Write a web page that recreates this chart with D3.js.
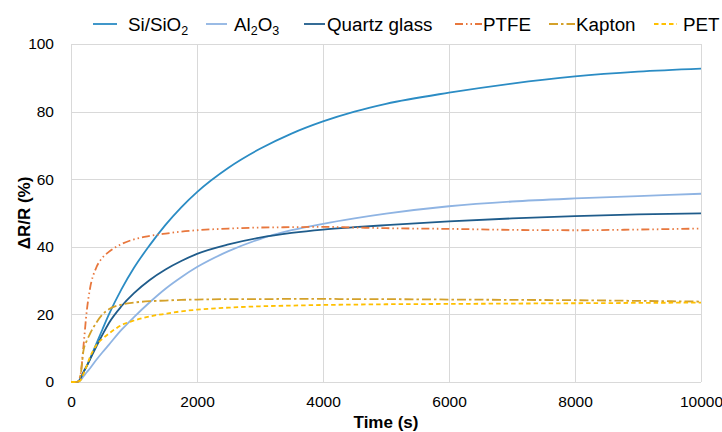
<!DOCTYPE html>
<html>
<head>
<meta charset="utf-8">
<script src="https://cdn.jsdelivr.net/npm/d3@7"></script>
<style>
  body { margin: 0; background: #fff; }
  svg text { font-family: "Liberation Sans", Arial, sans-serif; fill: #000; }
  .grid line { stroke: #d9d9d9; stroke-width: 1; }
</style>
</head>
<body>
<svg id="chart" width="722" height="432"></svg>
<script>
// time points (s)
var times = [0, 100, 150, 200, 250, 300, 400, 500, 600, 800, 1000, 1250, 1500, 1750, 2000,
             2500, 3000, 3500, 4000, 4500, 5000, 6000, 7000, 8000, 9000, 10000];

// dR/R (%) for each substrate
var siSio2 = [0, 0, 1, 3, 4.8, 6.8, 11.2, 15.6, 19.9, 27.4, 33.8, 40.5, 46.5, 51.7, 56.2,
              63.4, 69.0, 73.5, 77.1, 80.0, 82.3, 85.6, 88.3, 90.4, 91.8, 92.7];
var al2o3  = [0, 0, 0.5, 1.7, 2.9, 4, 6.5, 8.8, 11, 15.4, 19.2, 23.6, 27.6, 31.0, 34.0,
              38.7, 42.3, 44.9, 46.8, 48.4, 49.8, 52.0, 53.4, 54.3, 55.0, 55.7];
var quartz = [0, 0, 1, 3, 4.7, 6.6, 10.4, 14.0, 17.4, 22.4, 26.3, 30.2, 33.3, 35.8, 37.9,
              40.7, 42.7, 44.1, 45.1, 45.8, 46.4, 47.5, 48.4, 49.1, 49.6, 49.9];
var ptfe   = [0, 0, 2, 11, 21, 27.5, 33.8, 36.8, 38.5, 40.8, 42.2, 43.2, 43.9, 44.5, 44.9,
              45.4, 45.7, 45.8, 45.9, 45.7, 45.5, 45.3, 45.0, 44.9, 45.1, 45.4];
var kapton = [0, 0, 2, 9.5, 12.2, 14.2, 17.5, 20, 21.5, 22.9, 23.5, 23.9, 24.1, 24.3, 24.4,
              24.5, 24.5, 24.6, 24.6, 24.5, 24.5, 24.4, 24.3, 24.2, 24.0, 23.8];
var pet    = [0, 0, 0.5, 2.5, 4.8, 7.3, 10.8, 12.8, 14.3, 16.8, 18.2, 19.4, 20.2, 20.9, 21.4,
              22.0, 22.4, 22.6, 22.8, 22.9, 23.0, 23.1, 23.2, 23.3, 23.4, 23.5];

var xTicks = [0, 2000, 4000, 6000, 8000, 10000];
var yTicks = [0, 20, 40, 60, 80, 100];

var series = [
  { name: "Si/SiO", sub: "2", values: siSio2, color: "#2b8cc4", dash: null },
  { name: "Al", sub: "2", tail: "O", sub2: "3", values: al2o3, color: "#8fb4e3", dash: null },
  { name: "Quartz glass", values: quartz, color: "#1f5c8b", dash: null },
  { name: "PTFE", values: ptfe, color: "#e8773d", dash: "8,3,1.5,3,1.5,3" },
  { name: "Kapton", values: kapton, color: "#d4a12a", dash: "9,3,2.5,3" },
  { name: "PET", values: pet, color: "#ffc000", dash: "4.5,3" }
];

var margin = { top: 44, right: 21, bottom: 50, left: 71 };
var width = 722 - margin.left - margin.right;
var height = 432 - margin.top - margin.bottom;

var svg = d3.select("#chart");
var g = svg.append("g").attr("transform", "translate(" + margin.left + "," + margin.top + ")");

var x = d3.scaleLinear().domain([0, 10000]).range([0, width]);
var y = d3.scaleLinear().domain([0, 100]).range([height, 0]);

// grid
g.append("g").attr("class", "grid")
  .selectAll("line").data(yTicks).enter().append("line")
  .attr("x1", 0).attr("x2", width)
  .attr("y1", d => Math.round(y(d)) + 0.5).attr("y2", d => Math.round(y(d)) + 0.5);
g.append("g").attr("class", "grid")
  .selectAll("line").data(xTicks).enter().append("line")
  .attr("y1", 0).attr("y2", height)
  .attr("x1", d => Math.round(x(d)) + 0.5).attr("x2", d => Math.round(x(d)) + 0.5);

// axes (labels only, Excel style)
var xAxis = g.append("g").attr("transform", "translate(0," + height + ")")
  .call(d3.axisBottom(x).tickValues(xTicks).tickSize(0).tickPadding(14).tickFormat(d3.format("d")));
var yAxis = g.append("g")
  .call(d3.axisLeft(y).tickValues(yTicks).tickSize(0).tickPadding(17).tickFormat(d3.format("d")));
[xAxis, yAxis].forEach(function(a) {
  a.select(".domain").remove();
  a.selectAll("text").style("font-size", "15.5px").style("font-family", '"Liberation Sans", Arial, sans-serif').attr("fill", "#000");
});

// axis titles
svg.append("text")
  .attr("x", margin.left + width / 2).attr("y", 428)
  .attr("text-anchor", "middle")
  .style("font-size", "17px").style("font-weight", "bold")
  .text("Time (s)");
svg.append("text")
  .attr("transform", "translate(30,213) rotate(-90)")
  .attr("text-anchor", "middle")
  .style("font-size", "17px").style("font-weight", "bold")
  .text("\u0394R/R (%)");

// lines
var line = d3.line()
  .x(function(d) { return x(d[0]); })
  .y(function(d) { return y(d[1]); })
  .curve(d3.curveMonotoneX);

series.forEach(function(s) {
  var pts = times.map(function(t, i) { return [t, s.values[i]]; });
  g.append("path").datum(pts)
    .attr("fill", "none")
    .attr("stroke", s.color)
    .attr("stroke-width", 1.8)
    .attr("stroke-dasharray", s.dash)
    .attr("d", line);
});

// legend
var legendPos = [
  { lx: 93, len: 24, tx: 128 },
  { lx: 206, len: 21, tx: 234 },
  { lx: 304, len: 21, tx: 327 },
  { lx: 455, len: 27, tx: 483 },
  { lx: 549, len: 26, tx: 576 },
  { lx: 654, len: 23, tx: 683 }
];
var legend = svg.append("g");
series.forEach(function(s, i) {
  var p = legendPos[i];
  legend.append("line")
    .attr("x1", p.lx).attr("x2", p.lx + p.len)
    .attr("y1", 24).attr("y2", 24)
    .attr("stroke", s.color).attr("stroke-width", 1.8)
    .attr("stroke-dasharray", s.dash);
  var t = legend.append("text").attr("x", p.tx).attr("y", 31).style("font-size", "18.8px");
  t.append("tspan").text(s.name);
  if (s.sub) t.append("tspan").attr("dy", 4).style("font-size", "12.5px").text(s.sub);
  if (s.tail) t.append("tspan").attr("dy", -4).text(s.tail);
  if (s.sub2) t.append("tspan").attr("dy", 4).style("font-size", "12.5px").text(s.sub2);
});
</script>
</body>
</html>
